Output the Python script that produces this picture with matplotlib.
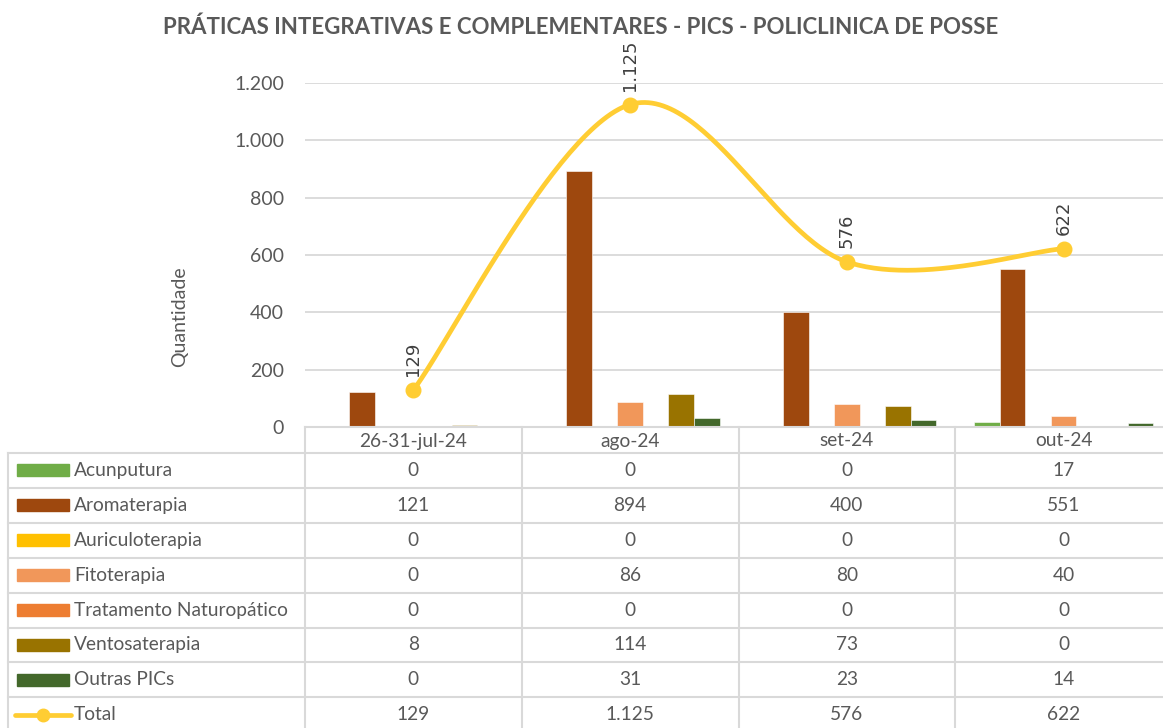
import numpy as np
import matplotlib.pyplot as plt
from matplotlib.ticker import FuncFormatter

categories = ["26-31-jul-24", "ago-24", "set-24", "out-24"]
series_names = ["Acunputura", "Aromaterapia", "Auriculoterapia", "Fitoterapia",
                "Tratamento Naturopático", "Ventosaterapia", "Outras PICs"]
acunputura = [0, 0, 0, 17]
aromaterapia = [121, 894, 400, 551]
auriculoterapia = [0, 0, 0, 0]
fitoterapia = [0, 86, 80, 40]
naturopatico = [0, 0, 0, 0]
ventosaterapia = [8, 114, 73, 0]
outras = [0, 31, 23, 14]
total = [129, 1125, 576, 622]

series_vals = [acunputura, aromaterapia, auriculoterapia, fitoterapia,
               naturopatico, ventosaterapia, outras]
colors = ["#70AD47", "#9E480E", "#FFC000", "#F1975A", "#ED7D31", "#997300", "#43682B"]
line_color = "#FFCD33"
text_color = "#595959"
grid_color = "#D9D9D9"

plt.rcParams["font.family"] = ["Lato", "DejaVu Sans"]

W, H = 1163, 728
fig = plt.figure(figsize=(W / 100, H / 100), dpi=100)

# plot area in pixels (right edge runs a bit past the picture)
x0, x1, y0, y1 = 305, 1172, 427, 83
ax = fig.add_axes([x0 / W, 1 - y0 / H, (x1 - x0) / W, (y0 - y1) / H])

def fmt(v, pos=None):
    return f"{v:,.0f}".replace(",", ".")

n = len(categories)
k = len(series_names)
x = np.arange(n)
bw = 0.118
for i, (name, vals, c) in enumerate(zip(series_names, series_vals, colors)):
    ax.bar(x + (i - (k - 1) / 2) * bw, vals, width=bw, color=c,
           edgecolor="white", linewidth=0.4, zorder=2)

# smoothed total line (Catmull-Rom style bezier like Excel)
px = np.array(x, dtype=float)
py = np.array(total, dtype=float)
cx, cy = [], []
for i in range(n - 1):
    p0 = (px[max(i - 1, 0)], py[max(i - 1, 0)])
    p1 = (px[i], py[i])
    p2 = (px[i + 1], py[i + 1])
    p3 = (px[min(i + 2, n - 1)], py[min(i + 2, n - 1)])
    c1 = (p1[0] + (p2[0] - p0[0]) / 6, p1[1] + (p2[1] - p0[1]) / 6)
    c2 = (p2[0] - (p3[0] - p1[0]) / 6, p2[1] - (p3[1] - p1[1]) / 6)
    t = np.linspace(0, 1, 60)
    for a, b, c, d, out in [(p1[0], c1[0], c2[0], p2[0], cx), (p1[1], c1[1], c2[1], p2[1], cy)]:
        out.extend((1 - t) ** 3 * a + 3 * (1 - t) ** 2 * t * b + 3 * (1 - t) * t ** 2 * c + t ** 3 * d)
ax.plot(cx, cy, color=line_color, lw=3.4, zorder=3, solid_capstyle="round")
ax.plot(px, py, "o", color=line_color, ms=10.5, zorder=4)
for xi, v in zip(px, total):
    ax.annotate(fmt(v), (xi, v), xytext=(0, 10), textcoords="offset points",
                rotation=90, ha="center", va="bottom", fontsize=13,
                color="#404040", family="DejaVu Sans")

ax.set_xlim(-0.5, n - 0.5)
ax.set_ylim(0, 1200)
ax.set_yticks(np.arange(0, 1201, 200))
ax.yaxis.set_major_formatter(FuncFormatter(fmt))
ax.set_xticks([])
ax.tick_params(axis="y", length=0, pad=15, labelsize=14, labelcolor=text_color)
ax.grid(axis="y", color=grid_color, lw=1.3, zorder=0)
ax.set_axisbelow(True)
for s in ["top", "right", "left"]:
    ax.spines[s].set_visible(False)
ax.spines["bottom"].set_color(grid_color)
ax.spines["bottom"].set_linewidth(1.5)

fig.text(180 / W, 1 - 317 / H, "Quantidade", rotation=90, ha="center", va="center",
         fontsize=14, color=text_color)
fig.text(581 / W, 1 - 27 / H, "PRÁTICAS INTEGRATIVAS E COMPLEMENTARES - PICS - POLICLINICA DE POSSE",
         ha="center", va="center", fontsize=16, fontweight="bold", color=text_color)

# data table
tab = fig.add_axes([0, 0, 1, 1])
tab.set_xlim(0, W)
tab.set_ylim(H, 0)
tab.axis("off")
col_w = (x1 - x0) / n
row_h = 34.9
top = 453
lc = grid_color
fs = 13.8
tab.plot([8, x1], [top, top], color=lc, lw=1.5)
for j in range(n):
    xc = x0 + j * col_w
    tab.plot([xc, xc], [y0, H + 10], color=lc, lw=1.5)
tab.plot([8, 8], [top, H + 10], color=lc, lw=1.5)
for j, cat in enumerate(categories):
    tab.text(x0 + (j + 0.5) * col_w, (y0 + top) / 2 + 1, cat, ha="center", va="center",
             fontsize=fs, color=text_color)

row_names = series_names + ["Total"]
row_vals = series_vals + [total]
for r, (name, vals) in enumerate(zip(row_names, row_vals)):
    ry = top + (r + 0.5) * row_h
    if r > 0:
        tab.plot([8, x1], [top + r * row_h] * 2, color=lc, lw=1.5)
    if name == "Total":
        tab.plot([15, 71], [ry, ry], color=line_color, lw=3.4, solid_capstyle="round")
        tab.plot([43], [ry], "o", color=line_color, ms=9)
    else:
        tab.add_patch(plt.Rectangle((17, ry - 6), 52, 12, color=colors[r]))
    tab.text(74, ry, name, ha="left", va="center", fontsize=fs, color=text_color)
    for j, v in enumerate(vals):
        tab.text(x0 + (j + 0.5) * col_w, ry, fmt(v), ha="center", va="center",
                 fontsize=fs, color=text_color)

fig.savefig("out.png", dpi=100)
